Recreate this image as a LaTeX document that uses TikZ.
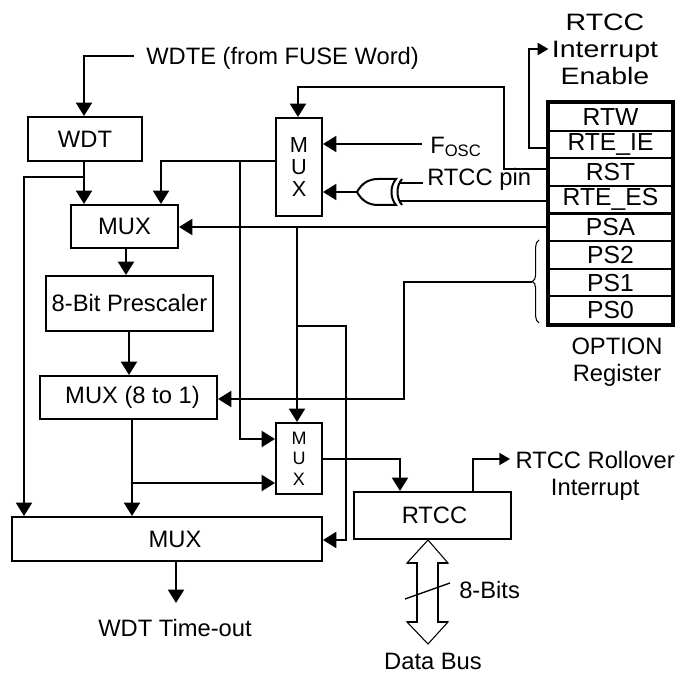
\documentclass[tikz,border=0pt]{standalone}
\usepackage{fontspec}
\setmainfont{Liberation Sans}
\usetikzlibrary{arrows.meta,decorations.pathreplacing}
\newcommand{\wideline}[1]{\scalebox{1.2}[1]{#1}}
\begin{document}
\begin{tikzpicture}[x=0.75pt,y=-0.75pt,
  every node/.style={font=\fontsize{17.8}{20.25}\selectfont},
  box/.style={draw, line width=1.5pt, inner sep=0pt, align=center},
  wire/.style={line width=1.5pt},
  arr/.style={wire, -{Triangle[length=10pt,width=12pt]}},
  sarr/.style={wire, -{Triangle[length=8pt,width=9pt]}},
  regrow/.style={draw, line width=1.5pt, minimum width=92.25pt, minimum height=20.72pt, inner sep=0pt, font=\fontsize{18.5}{19}\selectfont},
  lbl/.style={inner sep=0pt, align=center},
  thin/.style={line width=0.8pt}
]
\useasboundingbox (0,0) rectangle (690,673);

% ---- boxes
\node[box, minimum width=85.5pt, minimum height=33pt] (wdt) at (85,139) {WDT};
\node[box, minimum width=80.25pt, minimum height=32.25pt] (mux1) at (124.5,226.5) {MUX};
\node[box, minimum width=34.5pt, minimum height=73.5pt, font=\fontsize{16.3}{16.8}\selectfont] (mux2) at (299,167) {M\\U\\X};
\node[box, minimum width=125.25pt, minimum height=41.25pt] (presc) at (129.5,303.5) {8-Bit Prescaler};
\node[box, minimum width=132.75pt, minimum height=32.25pt] (mux8) at (128.5,397.5) {\hspace*{6pt}MUX (8 to 1)};
\node[box, minimum width=34.5pt, minimum height=53.25pt, font=\fontsize{13.5}{15.4}\selectfont] (mux3) at (299,458.5) {M\\U\\X};
\node[box, minimum width=232.5pt, minimum height=33pt] (muxb) at (167,539) {\hspace*{12pt}MUX};
\node[box, minimum width=117.75pt, minimum height=35.25pt] (rtcc) at (432.5,515.5) {\hspace*{3pt}RTCC};

% ---- OPTION register
\node[regrow] (rtw)   at (610.5,116.8) {RTW};
\node[regrow] (rteie) at (610.5,144.4) {RTE\_IE};
\node[regrow] (rst)   at (610.5,172.1) {RST};
\node[regrow] (rtees) at (610.5,199.7) {RTE\_ES};
\node[regrow] (psa)   at (610.5,227.3) {PSA};
\node[regrow] (ps2)   at (610.5,254.9) {PS2};
\node[regrow] (ps1)   at (610.5,282.6) {PS1};
\node[regrow] (ps0)   at (610.5,310.2) {PS0};
\draw[line width=2.6pt] (rtw.north west) rectangle (ps0.south east);
\node[lbl] (optlbl) at (617,362) {OPTION\\Register};

% ---- labels
\node[lbl, anchor=west, inner xsep=9pt] (wdte) at (134,58) {WDTE (from FUSE Word)};
\node[lbl, anchor=west, inner xsep=6pt] (fosc) at (422,147) {F\textsubscript{OSC}};
\node[lbl, anchor=west, inner xsep=3pt] (pin) at (423,179) {RTCC pin};
\node[lbl, inner xsep=2.5pt] (ie) at (605,49) {\wideline{RTCC}\\\wideline{Interrupt}\\\wideline{Enable}};
\node[lbl, anchor=west, inner xsep=4pt] (ro) at (510,476) {RTCC Rollover\\Interrupt};
\node[lbl] (wto) at (175,628) {WDT Time-out};
\node[lbl, anchor=west] (bits) at (459,590) {8-Bits};
\node[lbl] (dbus) at (433,661) {Data Bus};

% ---- XOR gate (pointing left)
\coordinate (xout) at (357,192);
\coordinate (xin1) at (399,183);
\coordinate (xin2) at (399,201);
\draw[wire] (xout) .. controls (362,183) and (369,179) .. (378,179) -- (396,179)
  .. controls (390,186) and (390,198) .. (396,205) -- (378,205)
  .. controls (369,205) and (362,201) .. (xout);
\draw[wire] (402,179) .. controls (396,186) and (396,198) .. (402,205);

% ---- brace over PS2..PS0
\draw[thin, decorate, decoration={brace, amplitude=5pt}] (539,323) -- (539,240);
\coordinate (bt) at (532,282);

% ---- junctions
\coordinate (jwdt) at (84,177);
\coordinate (jm2) at (240,161);
\coordinate (jpsa) at (297,227);
\coordinate (jsel) at (297,326);
\coordinate (j8) at (132,483);
\coordinate (wtoin) at (176,603);

% ---- connectors
\draw[arr] (wdte.west |- 0,56) -| (wdt.north -| 84,0);
\draw[arr] (wdt.south -| 84,0) -- (mux1.north -| 84,0);
\draw[wire] (jwdt) -| (24,300);
\draw[arr] (24,300) -- (muxb.north -| 24,0);
\draw[arr] (mux2.west |- jm2) -| (mux1.north -| 161,0);
\draw[arr] (jm2) |- (mux3.west |- 0,439);
\draw[arr] (rst.west |- 0,169) -| (504,87) -| (mux2.north -| 298,0);
\draw[sarr] (rteie.west |- 0,148) -| (529,49) -- (ie.west |- 0,49);
\draw[arr] (fosc.west |- 0,144) -- (mux2.east |- 0,144);
\draw[arr] (xout) -- (mux2.east |- xout);
\draw[wire] (pin.west |- xin1) -- (xin1);
\draw[wire] (rtees.west |- xin2) -- (xin2);
\draw[arr] (psa.west |- jpsa) -- (mux1.east |- jpsa);
\draw[arr] (jpsa) -- (mux3.north -| jpsa);
\draw[arr] (jsel) -| (346,540) -- (muxb.east |- 0,540);
\draw[arr] (bt) -| (404,399) -- (mux8.east |- 0,399);
\draw[arr] (mux1.south -| 126,0) -- (presc.north -| 126,0);
\draw[arr] (presc.south -| 129,0) -- (mux8.north -| 129,0);
\draw[arr] (mux8.south -| j8) -- (muxb.north -| j8);
\draw[arr] (j8) -- (mux3.west |- j8);
\draw[arr] (mux3.east |- 0,459) -| (rtcc.north -| 400,0);
\draw[sarr] (rtcc.north -| 473,0) |- (ro.west |- 0,459);
\draw[arr] (muxb.south -| wtoin) -- (wtoin);

% ---- data bus (double arrow)
\draw[thin] (417,563) -- (407,563) -- (rtcc.south -| 428,0) -- (448,563) -- (438,563);
\draw[thin] (417,622) -- (407,622) -- (428,644) -- (448,622) -- (438,622);
\draw[wire] (407,563) -- (417,563) -- (417,622) -- (407,622);
\draw[wire] (448,563) -- (438,563) -- (438,622) -- (448,622);
\draw[line width=1pt] (405,599) -- (450,583);
\end{tikzpicture}
\end{document}
